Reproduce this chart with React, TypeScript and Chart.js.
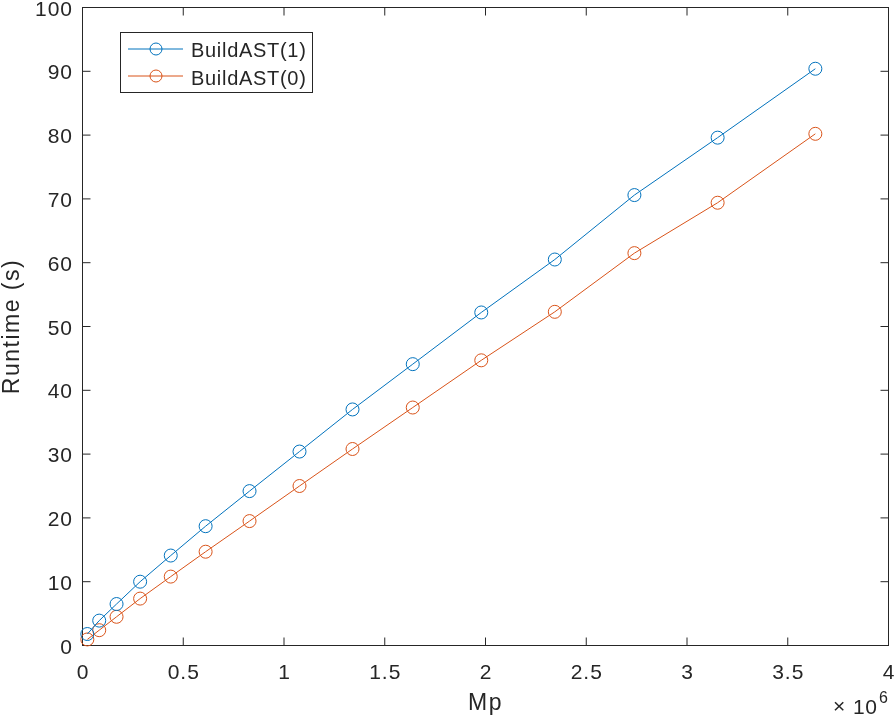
import React, { useEffect, useRef } from "react";
import { Chart, registerables } from "chart.js";

Chart.register(...registerables);

const mpValues = [24000, 83000, 169000, 286000, 438000, 611000, 829000, 1077000, 1340000, 1639000, 1979000, 2344000, 2739000, 3152000, 3637000];
const buildAst1 = [1.8, 3.9, 6.5, 10.0, 14.1, 18.7, 24.2, 30.4, 37.0, 44.1, 52.2, 60.5, 70.6, 79.6, 90.4];
const buildAst0 = [0.95, 2.4, 4.5, 7.35, 10.8, 14.7, 19.5, 25.0, 30.8, 37.3, 44.7, 52.3, 61.5, 69.4, 80.2];
const seriesNames = ["BuildAST(1)", "BuildAST(0)"];
const seriesColors = ["#0072BD", "#D95319"];
const xTickValues = [0, 500000, 1000000, 1500000, 2000000, 2500000, 3000000, 3500000, 4000000];
const xTickLabels = ["0", "0.5", "1", "1.5", "2", "2.5", "3", "3.5", "4"];
const yTickValues = [0, 10, 20, 30, 40, 50, 60, 70, 80, 90, 100];
const yTickLabels = ["0", "10", "20", "30", "40", "50", "60", "70", "80", "90", "100"];
const xTitle = "Mp";
const yTitle = "Runtime (s)";

const AXIS = "#262626";
const FONT = '"Liberation Sans", Arial, Helvetica, sans-serif';

const axesPlugin = {
  id: "matlabAxes",
  beforeDatasetsDraw(chart: any) {
    const ctx = chart.ctx as CanvasRenderingContext2D;
    const { left, right, top, bottom } = chart.chartArea;
    const xs = chart.scales.x;
    const ys = chart.scales.y;
    ctx.save();
    ctx.strokeStyle = AXIS;
    ctx.lineWidth = 1;
    ctx.strokeRect(left, top, right - left, bottom - top);
    const tl = 8;
    ctx.beginPath();
    xTickValues.forEach((v) => {
      const px = xs.getPixelForValue(v);
      ctx.moveTo(px, bottom);
      ctx.lineTo(px, bottom - tl);
      ctx.moveTo(px, top);
      ctx.lineTo(px, top + tl);
    });
    yTickValues.forEach((v) => {
      const py = ys.getPixelForValue(v);
      ctx.moveTo(left, py);
      ctx.lineTo(left + tl, py);
      ctx.moveTo(right, py);
      ctx.lineTo(right - tl, py);
    });
    ctx.stroke();

    ctx.fillStyle = AXIS;
    (ctx as any).letterSpacing = "1px";
    ctx.font = `21px ${FONT}`;
    ctx.textBaseline = "alphabetic";
    ctx.textAlign = "center";
    xTickValues.forEach((v, i) => {
      const px = xs.getPixelForValue(v);
      ctx.fillText(xTickLabels[i], px + 0.5, 679);
    });
    ctx.textAlign = "right";
    yTickValues.forEach((v, i) => {
      const py = ys.getPixelForValue(v);
      ctx.fillText(yTickLabels[i], 73, py + 8);
    });

    // axis titles
    (ctx as any).letterSpacing = "1.5px";
    ctx.font = `23px ${FONT}`;
    ctx.textAlign = "center";
    ctx.fillText(xTitle, (left + right) / 2, 710);
    ctx.save();
    ctx.translate(19, (top + bottom) / 2);
    ctx.rotate(-Math.PI / 2);
    ctx.fillText(yTitle, 0, 0);
    ctx.restore();

    // x10^6 multiplier
    (ctx as any).letterSpacing = "0.5px";
    ctx.textAlign = "left";
    ctx.font = `21px ${FONT}`;
    ctx.fillText("\u00d7", 833, 713);
    ctx.fillText("10", 853, 714);
    ctx.font = `16px ${FONT}`;
    ctx.fillText("6", 879, 703);
    ctx.restore();
  },
  afterDraw(chart: any) {
    const ctx = chart.ctx as CanvasRenderingContext2D;
    ctx.save();
    const bx = 120.5, by = 32.5, bw = 192, bh = 60;
    ctx.fillStyle = "#ffffff";
    ctx.fillRect(bx, by, bw, bh);
    ctx.strokeStyle = AXIS;
    ctx.lineWidth = 1;
    ctx.strokeRect(bx, by, bw, bh);
    const rows = [49, 76];
    const baselines = [57, 85];
    seriesNames.forEach((name, i) => {
      ctx.strokeStyle = seriesColors[i];
      ctx.lineWidth = 1;
      ctx.beginPath();
      ctx.moveTo(128, rows[i]);
      ctx.lineTo(183, rows[i]);
      ctx.stroke();
      ctx.beginPath();
      ctx.arc(156, rows[i], 6, 0, Math.PI * 2);
      ctx.stroke();
      ctx.fillStyle = AXIS;
      (ctx as any).letterSpacing = "0.7px";
      ctx.font = `20px ${FONT}`;
      ctx.textAlign = "left";
      ctx.textBaseline = "alphabetic";
      ctx.fillText(name, 191, baselines[i]);
    });
    ctx.restore();
  },
};

export default function App() {
  const canvasRef = useRef<HTMLCanvasElement | null>(null);

  useEffect(() => {
    document.body.style.margin = "0";
    const canvas = canvasRef.current;
    if (!canvas) return;
    const chart = new Chart(canvas, {
      type: "line",
      data: {
        datasets: [buildAst1, buildAst0].map((vals, i) => ({
          label: seriesNames[i],
          data: mpValues.map((x, j) => ({ x, y: vals[j] })),
          borderColor: seriesColors[i],
          backgroundColor: "transparent",
          borderWidth: 1,
          pointStyle: "circle",
          pointRadius: 6.5,
          pointBorderWidth: 1,
          pointBackgroundColor: "transparent",
          pointBorderColor: seriesColors[i],
          tension: 0,
          clip: false as any,
        })),
      },
      options: {
        animation: false,
        responsive: false,
        devicePixelRatio: 1,
        layout: { padding: { left: 0, top: 7.5, right: 5.5, bottom: 0 } },
        plugins: {
          legend: { display: false },
          tooltip: { enabled: false },
        },
        scales: {
          x: {
            type: "linear",
            min: 0,
            max: 4000000,
            ticks: { display: false, stepSize: 500000 },
            grid: { display: false, drawTicks: false },
            border: { display: false },
            afterFit: (s: any) => {
              s.height = 72.5;
            },
          },
          y: {
            type: "linear",
            min: 0,
            max: 100,
            ticks: { display: false, stepSize: 10 },
            grid: { display: false, drawTicks: false },
            border: { display: false },
            afterFit: (s: any) => {
              s.width = 82.5;
            },
          },
        },
      },
      plugins: [axesPlugin],
    });
    return () => chart.destroy();
  }, []);

  return (
    <div style={{ position: "fixed", left: 0, top: 0, width: 896, height: 718, background: "#fff" }}>
      <canvas ref={canvasRef} width={896} height={718} style={{ display: "block" }} />
    </div>
  );
}
